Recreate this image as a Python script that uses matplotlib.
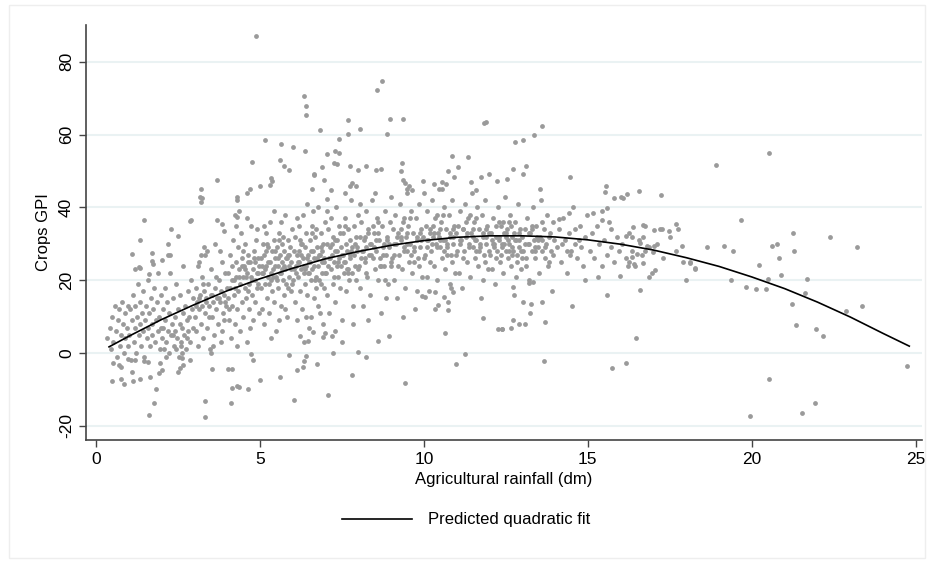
import matplotlib.pyplot as plt
import numpy as np
from matplotlib.ticker import MultipleLocator
from matplotlib.patches import Rectangle

plt.rcParams['font.family'] = ['Liberation Sans', 'DejaVu Sans']
plt.rcParams['axes.unicode_minus'] = False

# scatter points (rainfall dm, crops GPI)
pts_0_2 = [(0.35, 4), (0.42, 7), (0.45, 1), (0.5, 10), (0.52, 3), (0.58, 13), (0.6, 6), (0.63, -1), (0.67, 9),
           (0.7, 12), (0.72, 2), (0.76, 5), (0.8, 14), (0.82, 8), (0.85, 0), (0.88, 11), (0.9, 4), (0.94, 7),
           (0.97, 13), (0.99, 2), (1.02, 5), (1.05, 12), (1.07, -2), (1.1, 9), (1.12, 16), (1.15, 3), (1.18, 7),
           (1.2, 13), (1.22, 0), (1.25, 10), (1.28, 19), (1.3, 5), (1.33, 8), (1.35, 14), (1.38, 2), (1.4, 11),
           (1.43, 6), (1.45, 17), (1.48, -1), (1.5, 9), (1.52, 13), (1.55, 4), (1.58, 7), (1.6, 20), (1.62, 11),
           (1.65, 2), (1.68, 15), (1.7, 8), (1.72, 5), (1.75, 12), (1.78, 18), (1.8, 3), (1.82, 9), (1.85, 14),
           (1.88, 6), (1.9, 22), (1.92, 10), (1.95, 1), (1.97, 16), (1.99, 7)]
pts_2_4 = [(2.02, 4), (2.04, 12), (2.06, 7), (2.08, 1), (2.1, 18), (2.12, 9), (2.15, 3), (2.17, 14), (2.2, 6),
           (2.22, 0), (2.24, 11), (2.27, 22), (2.3, 5), (2.32, 8), (2.34, 15), (2.37, 2), (2.4, 10), (2.42, 6),
           (2.45, 19), (2.47, 4), (2.5, 12), (2.52, -1), (2.55, 8), (2.57, 16), (2.6, 3), (2.62, 7), (2.65, 24),
           (2.67, 11), (2.7, 5), (2.72, 13), (2.75, 1), (2.77, 9), (2.8, 17), (2.82, 6), (2.85, 10), (2.87, 3),
           (2.9, 20), (2.92, 12), (2.95, 7), (2.97, 15), (2.21, 27), (2.44, 1), (2.63, 0), (2.88, -2), (2.36, 5),
           (2.58, 2), (2.79, 4), (2.14, -1),
           (3.02, 10), (3.04, 18), (3.06, 6), (3.08, 14), (3.1, 24), (3.12, 2), (3.14, 12), (3.17, 16), (3.2, 8),
           (3.22, 21), (3.24, 13), (3.27, 4), (3.3, 17), (3.32, 11), (3.34, 27), (3.37, 15), (3.4, 7), (3.42, 19),
           (3.44, 13), (3.47, 1), (3.5, 16), (3.52, 23), (3.54, 10), (3.57, 14), (3.6, 5), (3.62, 18), (3.64, 30),
           (3.67, 12), (3.7, 15), (3.72, 8), (3.74, 20), (3.77, 14), (3.8, 3), (3.82, 17), (3.84, 25), (3.87, 11),
           (3.9, 16), (3.92, 9), (3.94, 22), (3.97, 13), (3.99, 18), (3.15, 15), (3.35, 14), (3.55, 16),
           (3.75, 15), (3.95, 14), (3.25, 19), (3.45, 10), (3.65, 21), (3.85, 6), (3.05, 13), (3.58, 2), (3.78, 28)]
pts_4_6 = [(4.02, 15), (4.04, 22), (4.06, 9), (4.08, 27), (4.1, 18), (4.12, 4), (4.14, 24), (4.16, 13), (4.18, 31),
           (4.2, 20), (4.22, 16), (4.24, 8), (4.26, 25), (4.28, 21), (4.3, 12), (4.32, 29), (4.34, 17), (4.36, 23),
           (4.38, 6), (4.4, 19), (4.42, 33), (4.44, 14), (4.46, 26), (4.48, 21), (4.5, 10), (4.52, 24), (4.54, 18),
           (4.56, 30), (4.58, 15), (4.6, 22), (4.62, 3), (4.64, 27), (4.66, 19), (4.68, 12), (4.7, 25), (4.72, 21),
           (4.74, 35), (4.76, 16), (4.78, 23), (4.8, 9), (4.82, 28), (4.84, 20), (4.86, 14), (4.88, 31), (4.9, 22),
           (4.92, 18), (4.94, 26), (4.96, 11), (4.98, 24), (4.15, 20), (4.35, 21), (4.55, 23), (4.75, 20),
           (4.95, 22), (4.25, 18), (4.45, 24), (4.65, 17), (4.85, 25), (4.05, 12), (4.5, 28), (4.7, 7), (4.9, 34),
           (4.3, 2), (4.6, 37),
           (5.02, 18), (5.04, 26), (5.06, 12), (5.08, 30), (5.1, 22), (5.12, 8), (5.14, 27), (5.16, 19), (5.18, 33),
           (5.2, 24), (5.22, 15), (5.24, 29), (5.26, 21), (5.28, 11), (5.3, 25), (5.32, 36), (5.34, 20), (5.36, 28),
           (5.38, 17), (5.4, 23), (5.42, 31), (5.44, 14), (5.46, 26), (5.48, 21), (5.5, 6), (5.52, 29), (5.54, 24),
           (5.56, 18), (5.58, 33), (5.6, 22), (5.62, 27), (5.64, 13), (5.66, 25), (5.68, 30), (5.7, 20), (5.72, 16),
           (5.74, 28), (5.76, 23), (5.78, 38), (5.8, 19), (5.82, 26), (5.84, 10), (5.86, 31), (5.88, 24), (5.9, 21),
           (5.92, 29), (5.94, 17), (5.96, 25), (5.98, 34), (5.15, 23), (5.25, 25), (5.35, 22), (5.45, 24),
           (5.55, 26), (5.65, 22), (5.75, 24), (5.85, 27), (5.95, 23), (5.05, 22), (5.33, 4), (5.57, 9), (5.77, 12),
           (5.13, 35), (5.43, 39), (5.63, 36), (5.87, 18), (5.21, 30), (5.51, 20), (5.71, 32)]
pts_6_8 = [(6.02, 20), (6.04, 28), (6.06, 14), (6.08, 32), (6.1, 24), (6.12, 9), (6.14, 27), (6.16, 21), (6.18, 35),
           (6.2, 25), (6.22, 17), (6.24, 30), (6.26, 23), (6.28, 12), (6.3, 26), (6.32, 38), (6.34, 22), (6.36, 29),
           (6.38, 19), (6.4, 24), (6.42, 33), (6.44, 16), (6.46, 27), (6.48, 22), (6.5, 7), (6.52, 31), (6.54, 25),
           (6.56, 20), (6.58, 35), (6.6, 23), (6.62, 28), (6.64, 15), (6.66, 26), (6.68, 32), (6.7, 21), (6.72, 18),
           (6.74, 29), (6.76, 24), (6.78, 40), (6.8, 20), (6.82, 27), (6.84, 11), (6.86, 33), (6.88, 25), (6.9, 22),
           (6.92, 30), (6.94, 18), (6.96, 26), (6.98, 36), (6.15, 25), (6.25, 27), (6.35, 24), (6.45, 26),
           (6.55, 28), (6.65, 24), (6.75, 26), (6.85, 29), (6.95, 25), (6.05, 23), (6.33, 3), (6.57, 10),
           (6.77, 13), (6.13, 37), (6.43, 41), (6.63, 39), (6.87, 19), (6.21, 31), (6.51, 22), (6.71, 34),
           (6.41, 10), (6.91, 8),
           (7.02, 22), (7.04, 30), (7.06, 16), (7.08, 34), (7.1, 26), (7.12, 11), (7.14, 29), (7.16, 23), (7.18, 37),
           (7.2, 27), (7.22, 19), (7.24, 32), (7.26, 25), (7.28, 14), (7.3, 28), (7.32, 40), (7.34, 24), (7.36, 31),
           (7.38, 21), (7.4, 26), (7.42, 35), (7.44, 18), (7.46, 29), (7.48, 24), (7.5, 9), (7.52, 33), (7.54, 27),
           (7.56, 22), (7.58, 37), (7.6, 25), (7.62, 30), (7.64, 17), (7.66, 28), (7.68, 34), (7.7, 23), (7.72, 20),
           (7.74, 31), (7.76, 26), (7.78, 42), (7.8, 22), (7.82, 29), (7.84, 13), (7.86, 35), (7.88, 27), (7.9, 24),
           (7.92, 32), (7.94, 20), (7.96, 28), (7.98, 38), (7.15, 26), (7.35, 28), (7.55, 25), (7.75, 27),
           (7.95, 29), (7.25, 21), (7.45, 33), (7.65, 23), (7.85, 8), (7.05, 39), (7.6, 44), (7.3, 6)]
pts_8_10 = [(8.02, 24), (8.04, 32), (8.06, 18), (8.08, 36), (8.1, 28), (8.13, 13), (8.16, 31), (8.19, 25),
            (8.22, 39), (8.25, 29), (8.28, 21), (8.31, 34), (8.34, 27), (8.37, 16), (8.4, 30), (8.43, 42),
            (8.46, 26), (8.49, 33), (8.52, 23), (8.55, 28), (8.58, 37), (8.61, 20), (8.64, 31), (8.67, 26),
            (8.7, 11), (8.73, 35), (8.76, 29), (8.79, 24), (8.82, 39), (8.85, 27), (8.88, 32), (8.91, 19),
            (8.94, 30), (8.97, 36), (8.99, 25), (8.15, 28), (8.35, 30), (8.55, 31), (8.75, 27), (8.95, 29),
            (8.25, 22), (8.45, 35), (8.65, 24), (8.85, 15), (8.05, 41), (8.5, 44), (8.3, 9), (8.8, 20), (8.6, 33),
            (8.2, 26),
            (9.02, 26), (9.05, 34), (9.08, 20), (9.11, 38), (9.14, 30), (9.17, 15), (9.2, 33), (9.23, 27),
            (9.26, 41), (9.29, 31), (9.32, 23), (9.35, 36), (9.38, 29), (9.41, 18), (9.44, 32), (9.47, 44),
            (9.5, 28), (9.53, 35), (9.56, 25), (9.59, 30), (9.62, 39), (9.65, 22), (9.68, 33), (9.71, 28),
            (9.74, 12), (9.77, 37), (9.8, 31), (9.83, 26), (9.86, 41), (9.89, 29), (9.92, 34), (9.95, 21),
            (9.98, 32), (9.1, 30), (9.3, 32), (9.5, 33), (9.7, 29), (9.9, 31), (9.2, 24), (9.4, 37), (9.6, 27),
            (9.8, 17), (9.0, 43), (9.55, 46), (9.35, 10), (9.85, 24)]
pts_10_12 = [(10.02, 27), (10.05, 35), (10.08, 21), (10.11, 39), (10.14, 31), (10.17, 17), (10.2, 34),
             (10.23, 28), (10.26, 42), (10.29, 32), (10.32, 24), (10.35, 37), (10.38, 30), (10.41, 20),
             (10.44, 33), (10.47, 45), (10.5, 29), (10.53, 36), (10.56, 26), (10.59, 31), (10.62, 40),
             (10.65, 23), (10.68, 34), (10.71, 29), (10.74, 14), (10.77, 38), (10.8, 32), (10.83, 27),
             (10.86, 42), (10.89, 30), (10.92, 35), (10.95, 22), (10.98, 33), (10.1, 31), (10.3, 33), (10.5, 34),
             (10.7, 30), (10.9, 32), (10.2, 25), (10.4, 38), (10.6, 28), (10.8, 19), (10.0, 44), (10.55, 47),
             (10.35, 12), (10.85, 25), (10.45, 32), (10.65, 31), (10.25, 30),
             (11.02, 28), (11.05, 35), (11.08, 22), (11.11, 39), (11.14, 31), (11.17, 18), (11.2, 34),
             (11.23, 28), (11.26, 41), (11.29, 32), (11.32, 25), (11.35, 37), (11.38, 30), (11.41, 21),
             (11.44, 33), (11.47, 44), (11.5, 29), (11.53, 36), (11.56, 26), (11.59, 31), (11.62, 40),
             (11.65, 24), (11.68, 34), (11.71, 29), (11.74, 15), (11.77, 38), (11.8, 32), (11.83, 27),
             (11.86, 42), (11.89, 30), (11.92, 35), (11.95, 23), (11.98, 33), (11.1, 31), (11.3, 33), (11.5, 34),
             (11.7, 30), (11.9, 32), (11.2, 26), (11.4, 38), (11.6, 28), (11.8, 20), (11.45, 47), (11.85, 25),
             (11.55, 31)]
pts_12_14 = [(12.02, 27), (12.05, 33), (12.08, 23), (12.11, 37), (12.14, 30), (12.17, 19), (12.2, 32),
             (12.23, 28), (12.26, 40), (12.29, 31), (12.32, 25), (12.35, 35), (12.38, 29), (12.41, 22),
             (12.44, 33), (12.47, 43), (12.5, 28), (12.53, 34), (12.56, 26), (12.59, 30), (12.62, 38),
             (12.65, 24), (12.68, 32), (12.71, 28), (12.74, 16), (12.77, 36), (12.8, 31), (12.83, 27),
             (12.86, 41), (12.89, 29), (12.92, 34), (12.95, 23), (12.98, 32), (12.1, 30), (12.3, 32), (12.5, 33),
             (12.7, 29), (12.9, 31), (12.2, 26), (12.4, 36), (12.6, 28), (12.8, 21), (12.45, 30), (12.85, 25),
             (12.55, 31), (12.15, 29), (12.35, 27), (12.75, 33), (12.95, 28), (12.65, 35),
             (13.03, 28), (13.07, 34), (13.1, 24), (13.14, 37), (13.18, 30), (13.21, 20), (13.25, 33),
             (13.29, 28), (13.32, 40), (13.36, 31), (13.4, 26), (13.43, 35), (13.47, 29), (13.5, 22),
             (13.54, 32), (13.58, 42), (13.61, 28), (13.65, 34), (13.69, 26), (13.72, 30), (13.76, 38),
             (13.8, 25), (13.83, 32), (13.87, 28), (13.91, 17), (13.94, 36), (13.98, 31), (13.2, 30),
             (13.45, 32), (13.7, 29), (13.95, 27), (13.3, 34), (13.6, 31), (13.85, 33), (13.12, 26), (13.55, 45),
             (13.38, 29), (13.78, 24)]
pts_14_18 = [(14.05, 29), (14.12, 34), (14.18, 25), (14.25, 37), (14.3, 31), (14.37, 22), (14.43, 33), (14.5, 28),
             (14.56, 40), (14.62, 30), (14.68, 26), (14.75, 35), (14.8, 29), (14.86, 24), (14.92, 32), (14.97, 38),
             (14.22, 30), (14.47, 27), (14.72, 31), (14.9, 20), (14.6, 34), (14.35, 28),
             (15.05, 28), (15.12, 33), (15.2, 26), (15.28, 35), (15.35, 30), (15.42, 24), (15.5, 31), (15.58, 27),
             (15.65, 36), (15.72, 29), (15.8, 25), (15.88, 32), (15.95, 28), (15.3, 21), (15.7, 34),
             (16.05, 30), (16.15, 26), (16.25, 33), (16.35, 28), (16.45, 24), (16.55, 31), (16.65, 27), (16.75, 35),
             (16.85, 29), (16.95, 22), (17.1, 30), (17.3, 26), (17.5, 32), (17.7, 28), (17.9, 25), (17.2, 34)]
# the thickest part of the cloud, a second pass
pts_core = [(4.57, 21), (4.83, 26), (5.07, 24), (5.27, 19), (5.47, 28), (5.67, 23), (5.89, 27), (6.09, 22),
            (6.29, 30), (6.49, 25), (6.69, 20), (6.89, 28), (7.09, 24), (7.29, 31), (7.49, 27), (7.69, 22),
            (7.89, 30), (8.09, 26), (8.29, 33), (8.49, 29), (8.69, 24), (8.89, 31), (9.09, 27), (9.29, 34),
            (9.49, 30), (9.69, 25), (9.89, 33), (10.09, 29), (10.29, 35), (10.49, 31), (10.69, 27), (10.89, 34),
            (11.09, 30), (11.29, 36), (11.49, 32), (11.69, 28), (11.89, 34), (12.09, 31), (12.29, 36), (12.49, 32),
            (12.69, 27), (12.89, 33), (13.09, 30), (13.29, 35), (13.49, 31),
            (4.63, 25), (4.93, 19), (5.19, 28), (5.39, 21), (5.59, 31), (5.79, 26), (5.99, 19), (6.19, 28),
            (6.39, 23), (6.59, 33), (6.79, 27), (6.99, 22), (7.19, 30), (7.39, 25), (7.59, 35), (7.79, 28),
            (7.99, 23), (8.19, 32), (8.39, 27), (8.59, 36), (8.79, 30), (8.99, 24), (9.19, 32), (9.39, 28),
            (9.59, 37), (9.79, 32), (9.99, 26), (10.19, 33), (10.39, 29), (10.59, 38), (10.79, 33), (10.99, 27),
            (11.19, 34), (11.39, 29), (11.59, 37), (11.79, 33), (11.99, 28), (12.19, 35), (12.39, 30), (12.59, 36),
            (12.79, 31), (12.99, 26), (13.19, 33), (13.39, 28), (13.59, 36)]

# points that stand apart from the cloud
pts_high = [(4.89, 87), (6.34, 70.5), (6.42, 67.9), (6.42, 65.5), (8.72, 74.7), (8.56, 72.4), (6.0, 56.6),
            (6.83, 61.2), (7.68, 64.0), (7.7, 60.1), (8.04, 61.6), (8.89, 60.3), (8.98, 64.2), (9.35, 64.2),
            (11.83, 63.1), (11.89, 63.4), (5.15, 58.6), (5.63, 57.5), (6.39, 55.6), (4.77, 52.5), (5.6, 53),
            (5.75, 51.5), (5.9, 50.2), (3.68, 47.6), (3.22, 42.7), (4.29, 43), (4.6, 44), (4.7, 45), (4.99, 46),
            (5.3, 46.2), (5.35, 48), (5.37, 47.2), (6.65, 49.2), (6.58, 45), (1.47, 36.6), (1.33, 31),
            (1.09, 27.3), (1.2, 23.2), (1.3, 23.7), (1.34, 23.4), (1.62, 21.7), (1.72, 27.5), (1.7, 25.4),
            (1.75, 24.4), (2.0, 25.6), (2.29, 34), (2.51, 32.2), (2.2, 30), (2.25, 27), (2.9, 36.6), (2.86, 36.2),
            (3.2, 45), (3.16, 43), (3.19, 41.4), (3.3, 29), (3.38, 28), (3.2, 27), (3.15, 25), (3.7, 36.5),
            (3.85, 35.5), (3.92, 33.4), (4.3, 42), (4.25, 38), (4.31, 37.5), (4.28, 35), (4.36, 39),
            (7.42, 58.9), (7.28, 55.6), (7.4, 55), (7.05, 54.8), (7.25, 52.2), (7.36, 52), (7.75, 51.5),
            (7.99, 50.3), (8.22, 51.4), (8.54, 50.3), (8.68, 50.6), (9.32, 52.2), (9.3, 50.1), (10.85, 54.2),
            (11.36, 53.8), (11.05, 51.2), (6.65, 49), (6.9, 51.2), (6.96, 47.5), (7.18, 44.7), (7.05, 42.4),
            (7.81, 46.7), (7.74, 45.8), (7.94, 45.8), (9.37, 47.6), (9.42, 46.7), (9.47, 45.1), (9.63, 44.7),
            (9.98, 47.4), (10.31, 46.4), (10.54, 45.1), (10.68, 46.4), (10.75, 49.9), (10.91, 48.3),
            (11.6, 44.7), (11.73, 48.3), (11.99, 49.3), (12.22, 47.3), (12.54, 47.8),
            (13.6, 62.4), (13.37, 59.9), (12.78, 58), (13.01, 58.5), (12.72, 50.5), (13.02, 49.3), (13.1, 51.5),
            (14.47, 48.4), (15.56, 46), (15.52, 44.3), (15.8, 42.5), (16.0, 43), (16.08, 42.5), (16.19, 43.7),
            (16.56, 44.5), (17.24, 43.5), (15.59, 39.9), (15.42, 39), (15.16, 38.6), (15.44, 36.6),
            (14.42, 38.6), (14.12, 36.8)]
pts_right = [(16.38, 34.7), (16.69, 35.1), (17.01, 33.7), (17.25, 34), (17.47, 33.6), (17.68, 35.5), (17.76, 34),
             (16.16, 32.2), (16.36, 31.8), (16.59, 30.2), (16.69, 32), (16.8, 29.4), (17.01, 29.3), (16.98, 27.7),
             (16.75, 27.9), (16.51, 27.3), (16.36, 26.4), (16.25, 24.9), (16.21, 23.8), (16.42, 24.4),
             (16.69, 24.7), (17.06, 22.7), (16.85, 21), (15.97, 21.2), (17.87, 29.4), (18.1, 24.9),
             (18.28, 23.2), (17.98, 20.2), (15.58, 16), (16.58, 17.2), (14.53, 13),
             (18.9, 51.6), (20.52, 54.9), (19.66, 36.6), (21.26, 32.9), (22.38, 32), (18.63, 29.1),
             (19.14, 29.4), (19.44, 27.9), (20.6, 29.4), (20.78, 29.9), (23.22, 29.2), (21.29, 27.9),
             (20.83, 26), (20.21, 24.3), (18.11, 24.8), (18.28, 23.3), (20.88, 21.5), (20.49, 20.4),
             (21.67, 20.4), (19.36, 20), (19.82, 18.2), (20.13, 17.6), (20.42, 17.6), (21.62, 16.4),
             (21.21, 13.6), (23.36, 13), (22.88, 11.5), (21.35, 7.7), (21.97, 6.6), (22.17, 4.6),
             (24.73, -3.6), (20.52, -7.2), (21.92, -13.6), (21.52, -16.4), (19.93, -17.3)]
pts_low = [(0.49, -7.6), (0.53, -2.6), (0.78, -7), (0.86, -8.5), (0.71, -3.3), (0.77, -3.9), (0.99, -1.5),
           (1.09, -5.2), (1.19, -1.9), (1.14, -7.7), (1.35, -7.1), (1.47, -2.1), (1.6, -2.4), (1.65, -6.5),
           (1.63, -16.9), (1.78, -13.8), (1.84, -10), (1.92, -5.4), (2.01, -4.7), (1.95, -2.8), (2.51, -5.1),
           (2.55, -4.2), (2.67, -3.3), (2.63, -1.3), (3.33, -13.3), (3.34, -17.7), (3.55, -4.5), (3.51, 0.1),
           (4.03, -4.4), (4.16, -4.4), (4.14, -9.5), (4.29, -9), (4.37, -9.3), (4.65, -10), (4.11, -13.8),
           (5.0, -7.4), (4.8, -1.9), (4.74, -0.3), (5.61, -6.5), (5.9, -0.6), (6.03, -13), (7.08, -11.5),
           (6.12, -4.7), (6.32, -3.8), (6.4, -0.8), (6.35, -2.2), (6.75, -3.1), (7.81, -6.1), (6.22, 4.8),
           (6.48, 3.2), (6.63, 5.7), (6.91, 4.5), (6.98, 5.6), (7.19, 4.8), (7.24, -0.1), (7.51, 2.9),
           (8.0, 0.3), (8.25, -1), (9.42, -8.1), (8.61, 3.3), (8.94, 4.6), (10.65, 5.6), (10.97, -3.1),
           (11.25, -0.3), (11.81, 9.7), (12.27, 6.6), (12.38, 6.6), (10.74, 11.8), (10.43, 13.2),
           (10.62, 15.5), (10.84, 17.8), (10.89, 16.9), (10.02, 15.3), (9.93, 15.6), (10.33, 16.7),
           (13.22, 19.2), (13.33, 19.5), (13.01, 14), (13.28, 13.6), (13.6, 14), (13.23, 11), (12.72, 18.1),
           (13.69, 8.4), (12.73, 9.2), (12.89, 7.9), (13.08, 8.1), (12.66, 6.9), (12.39, 6.6), (13.65, -2.1),
           (16.48, 4), (15.75, -4.1), (16.16, -2.8)]

# predicted quadratic fit
fit_x = [0.4, 1, 2, 3, 4, 5, 6, 7, 8, 9, 10, 11, 12, 13, 14, 15, 16, 17, 18, 19, 20, 21, 22, 23, 24, 24.8]
fit_y = [1.7, 4.6, 9.2, 13.3, 17.1, 20.4, 23.3, 25.9, 27.9, 29.6, 30.9, 31.8, 32.2, 32.2, 31.9, 31.1,
         29.9, 28.3, 26.2, 23.8, 20.9, 17.7, 14.0, 9.9, 5.4, 1.9]

all_pts = np.array(pts_0_2 + pts_2_4 + pts_4_6 + pts_6_8 + pts_8_10 + pts_10_12 + pts_12_14 + pts_14_18
                   + pts_core + pts_high + pts_right + pts_low)

fig = plt.figure(figsize=(9.32, 5.62), dpi=100)
ax = fig.add_axes([0.092, 0.217, 0.897, 0.739])

ax.scatter(all_pts[:, 0], all_pts[:, 1], s=12, color='#9a9a9a', linewidths=0, zorder=2)
ax.plot(fit_x, fit_y, color='black', lw=1.2, zorder=3, label='Predicted quadratic fit')

ax.set_xlim(-0.31, 25.18)
ax.set_ylim(-23.9, 90.2)
ax.xaxis.set_major_locator(MultipleLocator(5))
ax.yaxis.set_major_locator(MultipleLocator(20))
ax.grid(axis='y', color='#eaf2f3', lw=1.5, zorder=0)
ax.grid(axis='x', visible=False)

for s in ['top', 'right']:
    ax.spines[s].set_visible(False)
for s in ['left', 'bottom']:
    ax.spines[s].set_color('#444444')
    ax.spines[s].set_linewidth(1.2)

ax.tick_params(axis='both', colors='#444444', labelcolor='black', length=5, width=1, labelsize=12.5)
plt.setp(ax.get_yticklabels(), rotation=90, va='center')

ax.set_xlabel('Agricultural rainfall (dm)', fontsize=12, labelpad=4)
ax.set_ylabel('Crops GPI', fontsize=12, labelpad=6)

fig.legend(loc='center', bbox_to_anchor=(0.5, 0.075), frameon=False, fontsize=12,
           handlelength=4.2, handletextpad=1.0)

# faint frame round the whole graph
fig.patches.append(Rectangle((0.01, 0.008), 0.983, 0.983, transform=fig.transFigure,
                             fill=False, edgecolor='#eeeeee', lw=1))

fig.savefig('out.png', dpi=100)
